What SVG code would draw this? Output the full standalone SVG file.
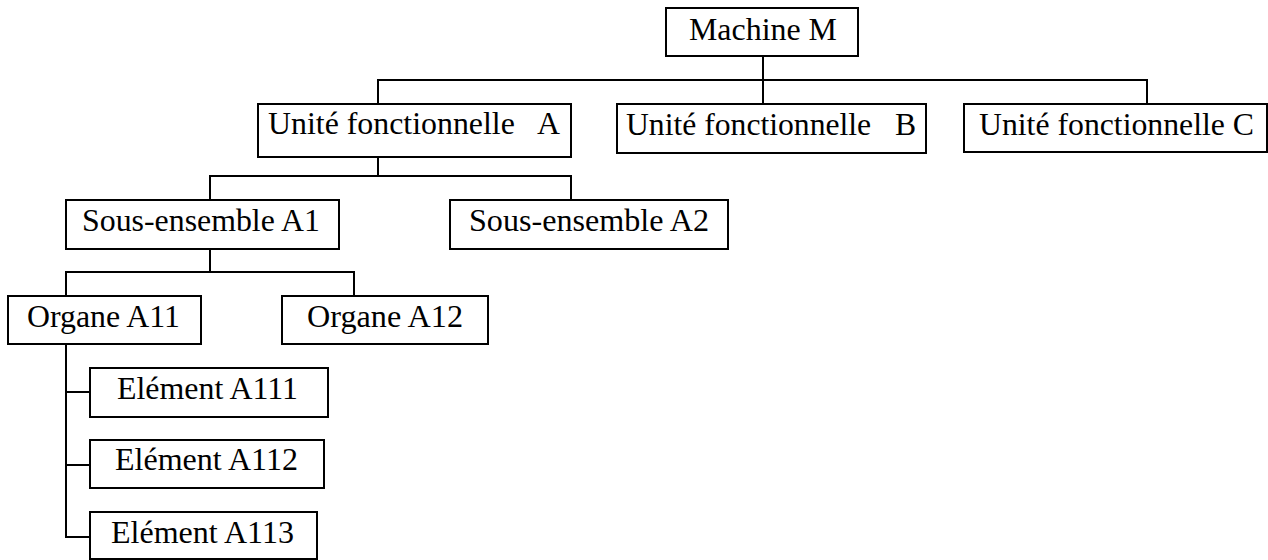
<svg xmlns="http://www.w3.org/2000/svg" width="1268" height="560" viewBox="0 0 1268 560">
<style>
.box{fill:#fff;stroke:#000;stroke-width:2}
.lbl{font-family:"Liberation Serif","Times New Roman",serif;font-size:31.5px;fill:#000;white-space:pre}
.con{fill:none;stroke:#000;stroke-width:2}
</style>
<rect width="1268" height="560" fill="#fff"/>
<g id="connectors">
<path class="con" d="M763 56V110"/>
<path class="con" d="M378 104V80H1147V104"/>
<path class="con" d="M378 153V176"/>
<path class="con" d="M210 200V176H571V200"/>
<path class="con" d="M210 249V272"/>
<path class="con" d="M66 296V272H354V296"/>
<path class="con" d="M66 344V537H90M66 392H90M66 465H90"/>
</g>
<g id="machine-m"><rect class="box" x="666" y="8" width="192" height="48"/><text class="lbl" x="689" y="40" textLength="148" lengthAdjust="spacingAndGlyphs">Machine M</text></g>
<g id="unite-a"><rect class="box" x="258" y="104" width="313" height="53"/><text class="lbl" x="268" y="134" textLength="292" lengthAdjust="spacingAndGlyphs">Unité fonctionnelle   A</text></g>
<g id="unite-b"><rect class="box" x="617" y="104" width="309" height="49"/><text class="lbl" x="626" y="135" textLength="290" lengthAdjust="spacingAndGlyphs">Unité fonctionnelle   B</text></g>
<g id="unite-c"><rect class="box" x="964" y="104" width="303" height="48"/><text class="lbl" x="979" y="135" textLength="275" lengthAdjust="spacingAndGlyphs">Unité fonctionnelle C</text></g>
<g id="sous-ensemble-a1"><rect class="box" x="66" y="200" width="273" height="49"/><text class="lbl" x="82" y="231" textLength="238" lengthAdjust="spacingAndGlyphs">Sous-ensemble A1</text></g>
<g id="sous-ensemble-a2"><rect class="box" x="450" y="200" width="278" height="49"/><text class="lbl" x="469" y="231" textLength="240" lengthAdjust="spacingAndGlyphs">Sous-ensemble A2</text></g>
<g id="organe-a11"><rect class="box" x="8" y="296" width="193" height="48"/><text class="lbl" x="27" y="327" textLength="153" lengthAdjust="spacingAndGlyphs">Organe A11</text></g>
<g id="organe-a12"><rect class="box" x="282" y="296" width="206" height="48"/><text class="lbl" x="307" y="327" textLength="156" lengthAdjust="spacingAndGlyphs">Organe A12</text></g>
<g id="element-a111"><rect class="box" x="90" y="368" width="238" height="49"/><text class="lbl" x="117" y="399" textLength="181" lengthAdjust="spacingAndGlyphs">Elément A111</text></g>
<g id="element-a112"><rect class="box" x="90" y="440" width="234" height="48"/><text class="lbl" x="115" y="470" textLength="183" lengthAdjust="spacingAndGlyphs">Elément A112</text></g>
<g id="element-a113"><rect class="box" x="90" y="512" width="227" height="47"/><text class="lbl" x="111" y="543" textLength="183" lengthAdjust="spacingAndGlyphs">Elément A113</text></g>
</svg>
